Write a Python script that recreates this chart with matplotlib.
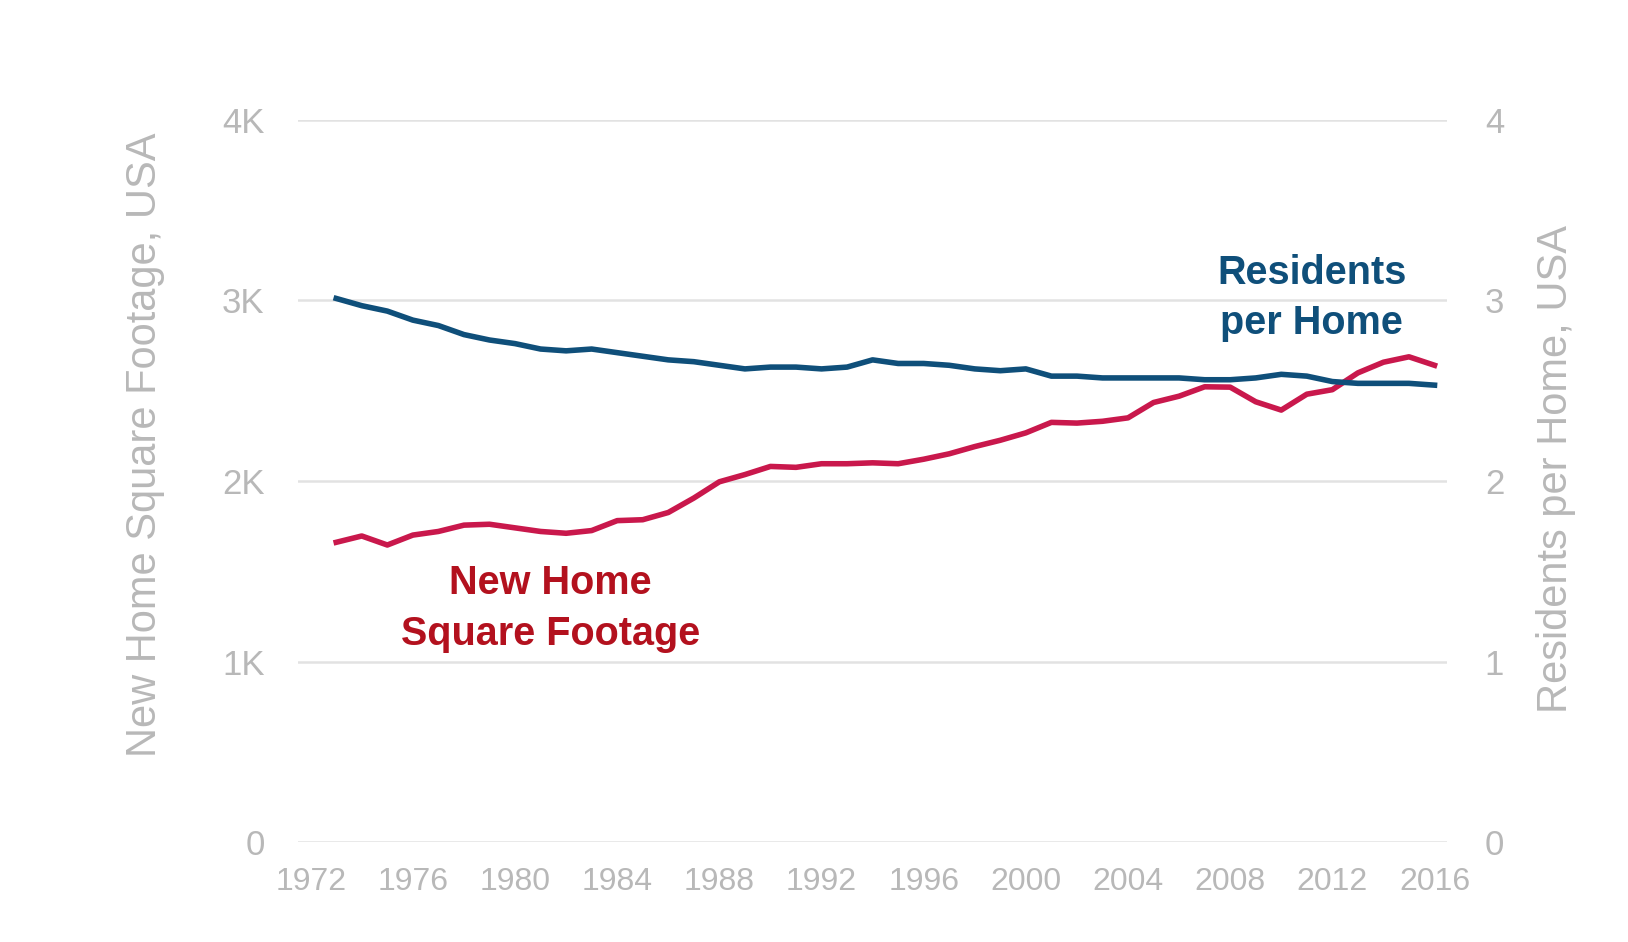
import matplotlib
matplotlib.use("Agg")
import matplotlib.pyplot as plt
from matplotlib.ticker import FuncFormatter

plt.rcParams['font.family'] = ['Liberation Sans', 'DejaVu Sans']

years = list(range(1973, 2017))

# average new home size, square feet
sqft = [1660, 1695, 1645, 1700, 1720, 1755, 1760, 1740, 1720, 1710,
        1725, 1780, 1785, 1825, 1905, 1995, 2035, 2080, 2075, 2095,
        2095, 2100, 2095, 2120, 2150, 2190, 2225, 2266, 2324, 2320,
        2330, 2349, 2434, 2469, 2521, 2519, 2438, 2392, 2480, 2505,
        2598, 2657, 2687, 2640]

# residents per home
residents = [3.01, 2.97, 2.94, 2.89, 2.86, 2.81, 2.78, 2.76, 2.73, 2.72,
             2.73, 2.71, 2.69, 2.67, 2.66, 2.64, 2.62, 2.63, 2.63, 2.62,
             2.63, 2.67, 2.65, 2.65, 2.64, 2.62, 2.61, 2.62, 2.58, 2.58,
             2.57, 2.57, 2.57, 2.57, 2.56, 2.56, 2.57, 2.59, 2.58, 2.55,
             2.54, 2.54, 2.54, 2.53]

xticks = list(range(1972, 2017, 4))
left_ticks = [0, 1000, 2000, 3000, 4000]
right_ticks = [0, 1, 2, 3, 4]

gray = '#b8b8b8'
blue = '#0f4f7a'
red_line = '#c9184c'
red_text = '#b3111e'

fig = plt.figure(figsize=(16.28, 9.42), dpi=100)
ax = fig.add_axes([0.183, 0.106, 0.706, 0.767])
ax2 = ax.twinx()

ax.plot(years, sqft, color=red_line, lw=4, solid_joinstyle='round', zorder=3)
ax2.plot(years, residents, color=blue, lw=4, solid_joinstyle='round', zorder=3)

ax.set_xlim(1971.5, 2016.5)
ax.set_ylim(0, 4000)
ax2.set_ylim(0, 4)

ax.set_xticks(xticks)
ax.set_yticks(left_ticks)
ax2.set_yticks(right_ticks)
ax.yaxis.set_major_formatter(FuncFormatter(lambda v, p: '0' if v == 0 else '%dK' % (v / 1000)))

ax.grid(axis='y', color='#e2e2e2', lw=1.8)
ax.grid(axis='x', visible=False)
ax.set_axisbelow(True)

for a in (ax, ax2):
    for s in a.spines.values():
        s.set_visible(False)
    a.tick_params(length=0, colors=gray, labelsize=23)
ax.tick_params(axis='y', pad=24, labelsize=25)
ax.tick_params(axis='x', pad=18)
ax2.tick_params(axis='y', pad=27, labelsize=25)

fig.text(0.089, 0.528, 'New Home Square Footage, USA', rotation=90,
         ha='center', va='center', color=gray, fontsize=30)
fig.text(0.956, 0.502, 'Residents per Home, USA', rotation=90,
         ha='center', va='center', color=gray, fontsize=30)

ax2.text(2011.2, 3.013, 'Residents\nper Home', ha='center', va='center',
         color=blue, fontsize=28.5, fontweight='bold', linespacing=1.42)
ax.text(1981.4, 1292, 'New Home\nSquare Footage', ha='center', va='center',
        color=red_text, fontsize=28.5, fontweight='bold', linespacing=1.42)

fig.savefig('out.png', dpi=100, facecolor='white')
